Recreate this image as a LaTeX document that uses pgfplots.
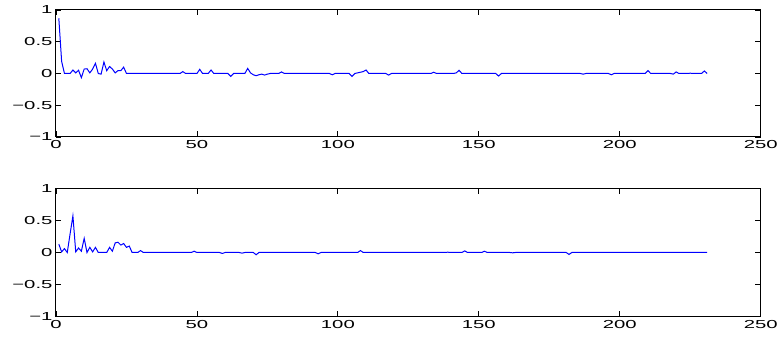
\documentclass[border=0pt]{standalone}
\usepackage{fontspec}
\usepackage{pgfplots}
\pgfplotsset{compat=1.18}
\setmainfont{Liberation Sans}
\newfontfamily\tickfont[FakeStretch=1.75]{Liberation Sans}

% top trace
\pgfplotstableread{
x y
1 0.87
2 0.19
3 0
4 0
5 0
6 0.055
7 0.01
8 0.05
9 -0.065
10 0.07
11 0.075
12 0.01
13 0.07
14 0.16
15 0
16 -0.01
17 0.18
18 0.045
19 0.11
20 0.07
21 0.01
22 0.045
23 0.045
24 0.1
25 0
44 0
45 0.03
46 0
50 0
51 0.065
52 0
54 0
55 0.055
56 0
61 0
62 -0.045
63 0
67 0
68 0.08
69 0.01
70 -0.02
71 -0.035
72 -0.02
73 -0.01
74 -0.025
75 -0.01
76 0
79 0
80 0.025
81 0
97 0
98 -0.02
99 0
104 0
105 -0.045
106 0
107 0.01
108 0.02
109 0.03
110 0.055
111 0
117 0
118 -0.025
119 0
133 0
134 0.02
135 0
141 0
142 0.01
143 0.05
144 0
156 0
157 -0.04
158 0
186 0
187 -0.01
188 0
196 0
197 -0.02
198 0
209 0
210 0.045
211 0
218 0
219 -0.01
220 0.025
221 0
224 0
225 0.005
226 0
229 0
230 0.04
231 0
}\topdata

% bottom trace
\pgfplotstableread{
x y
1 0.13
2 0.01
3 0.06
4 0
5 0.29
6 0.57
7 0.01
8 0.07
9 0.02
10 0.22
11 0
12 0.08
13 0.01
14 0.08
15 0
18 0
19 0.08
20 0.02
21 0.15
22 0.16
23 0.115
24 0.14
25 0.08
26 0.1
27 0
29 0
30 0.03
31 0
48 0
49 0.02
50 0
58 0
59 -0.015
60 0
65 0
66 -0.01
67 0
70 0
71 -0.035
72 0
92 0
93 -0.02
94 0
107 0
108 0.03
109 0
138 0
139 0.005
140 0
144 0
145 0.025
146 0
151 0
152 0.02
153 0
161 0
162 -0.005
163 0
181 0
182 -0.03
183 0
231 0
}\bottomdata

\pgfplotsset{
  panel/.style={
    scale only axis,
    width=704.7pt,
    xmin=0, xmax=250, ymin=-1, ymax=1,
    xtick={0,50,100,150,200,250},
    xticklabels={0,50,100,150,200,250},
    ytick={-1,-0.5,0,0.5,1},
    yticklabels={−1,−0.5,0,0.5,1},
    tick align=inside,
    major tick length=5.5pt,
    axis line style={black, line width=1pt},
    every tick/.style={black, line width=0.8pt},
    tick label style={font=\tickfont\fontsize{11.6}{12}\selectfont, black},
  },
}

\begin{document}
\begin{tikzpicture}
\path[use as bounding box] (-56pt,-202pt) rectangle (722pt,137pt);
\begin{axis}[panel, height=127pt, at={(0pt,0pt)}, anchor=south west]
\addplot[blue, line width=1pt] table[x=x, y=y] {\topdata};
\end{axis}
\begin{axis}[panel, height=128.4pt, at={(0pt,-51.3pt)}, anchor=north west]
\addplot[blue, line width=1pt] table[x=x, y=y] {\bottomdata};
\end{axis}
\end{tikzpicture}
\end{document}
